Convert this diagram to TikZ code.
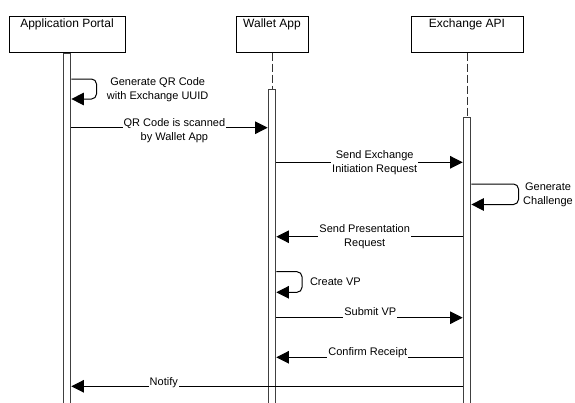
\documentclass[tikz,border=0pt]{standalone}
\usepackage{fontspec}
\setmainfont{Liberation Sans}
\usetikzlibrary{arrows.meta}
\begin{document}
\begin{tikzpicture}[x=1pt,y=-1pt,
  pbox/.style={draw=black, line width=1pt, fill=white, minimum width=#1, minimum height=36pt, inner sep=0pt},
  hdr/.style={font=\fontsize{12}{14}\selectfont, inner sep=0pt, anchor=base},
  actbar/.style={draw=black!75, line width=1pt, fill=white, minimum width=7.7pt, minimum height=#1, inner sep=0pt, anchor=north},
  life/.style={draw=black!80, line width=1pt, dash pattern=on 8pt off 3pt},
  msg/.style={draw=black, line width=1pt, -{Triangle[length=12.5pt,width=12.5pt]}},
  loopmsg/.style={msg, rounded corners=5pt},
  lbl/.style={font=\fontsize{11}{14}\selectfont, fill=white, inner xsep=1pt, inner ysep=0.5pt, align=center},
  lblone/.style={lbl, anchor=base, text depth=3pt},
]
\useasboundingbox (0,0) rectangle (575,402);
% participants
\node[pbox=116pt] (portal) at (67,34) {};
\node[pbox=72pt] (wallet) at (272,34) {};
\node[pbox=112pt] (exchange) at (467,34) {};
\node[hdr] (portaltxt) at ([yshift=-11.6pt]portal.north) {Application Portal};
\node[hdr] (wallettxt) at ([yshift=-11.6pt]wallet.north) {Wallet App};
\node[hdr] (exchangetxt) at ([yshift=-11.6pt]exchange.north) {Exchange API};
% activation bars and lifelines
\node[actbar=357pt] (pbar) at (67,53) {};
\node[actbar=321pt] (wbar) at (272,89) {};
\node[actbar=293pt] (ebar) at (467,117) {};
\draw[life] (wallet.south) -- (wbar.north);
\draw[life] (exchange.south) -- (ebar.north);
% messages
\draw[loopmsg] (pbar.east |- 0,79) -- (96.5,79) -- (96.5,99) -- (pbar.east |- 0,99);
\draw[msg] (pbar.east |- 0,127.7) -- (wbar.west |- 0,127.7);
\draw[msg] (wbar.east |- 0,162.3) -- (ebar.west |- 0,162.3);
\draw[loopmsg] (ebar.east |- 0,184) -- (518.5,184) -- (518.5,204.5) -- (ebar.east |- 0,204.5);
\draw[msg] (ebar.west |- 0,236.7) -- (wbar.east |- 0,236.7);
\draw[loopmsg] (wbar.east |- 0,271.7) -- (302,271.7) -- (302,292.3) -- (wbar.east |- 0,292.3);
\draw[msg] (wbar.east |- 0,317.7) -- (ebar.west |- 0,317.7);
\draw[msg] (ebar.west |- 0,357.3) -- (wbar.east |- 0,357.3);
\draw[msg] (ebar.west |- 0,386.3) -- (pbar.east |- 0,386.3);
% labels
\node[lbl] (gqrl) at (157.7,90) {Generate QR Code\\with Exchange UUID};
\node[lbl] (qrl) at (174.4,130.5) {QR Code is scanned\\by Wallet App};
\node[lbl] (seil) at (374.7,163) {Send Exchange\\Initiation Request};
\node[lbl] (gchl) at (548,194.5) {Generate\\Challenge};
\node[lbl] (sprl) at (364.7,236.3) {Send Presentation\\Request};
\node[lblone] (cvpl) at (335.4,285) {Create VP};
\node[lblone] (svpl) at (370.3,315.6) {Submit VP};
\node[lblone] (crl) at (367.8,355) {Confirm Receipt};
\node[lblone] (ntl) at (163.8,385.6) {Notify};
\end{tikzpicture}
\end{document}
